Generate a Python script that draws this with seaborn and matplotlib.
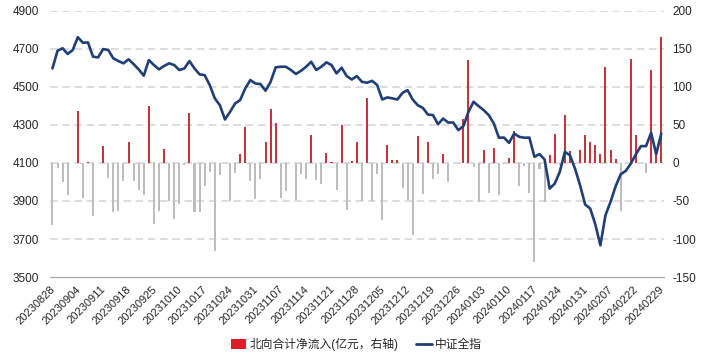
import numpy as np
import pandas as pd
import matplotlib
matplotlib.use("Agg")
import matplotlib.pyplot as plt
from matplotlib.patches import Patch
from matplotlib.lines import Line2D
import seaborn as sns

# trading days 2023-08-28 .. 2024-02-29 (A-share calendar)
holidays = ["2023-09-29", "2023-10-02", "2023-10-03", "2023-10-04", "2023-10-05",
            "2023-10-06", "2024-01-01", "2024-02-09", "2024-02-12", "2024-02-13",
            "2024-02-14", "2024-02-15", "2024-02-16"]
dates = pd.bdate_range("2023-08-28", "2024-02-29", freq="C", holidays=holidays)
dates = [d.strftime("%Y%m%d") for d in dates]

# northbound net flow (100m yuan, right axis)
flow = [-82, -6.6, -25, -42.5, 0, 68.4, -46, 1, -70, 0,
        22.4, -19.7, -65, -63.6, -24, 28, -24, -35, -42.5, 74.6,
        -80, -62.7, 18, -50, -74, -54, -3, 66, -64, -64,
        -30, -12, -116, -16, 0, -50, -12.7, 12.3, 46.5, -23.7,
        -47.4, -21, 26.8, 71, 52.6, -45.6, -36.8, 0, -49, -14.5,
        -21, 36.4, -22, -28, 13.6, 1.3, -35, 50.4, -61.4, 3,
        28, -50, 85, -50, -14.5, -74.6, 23, 3.5, 4.4, -32.5,
        -49, -95, 35, -41, 27, -21, -15, 12.3, -25, 0,
        0, 57, 135, -5.3, -52, 16.7, -39, 19.7, -42.5, -1.5,
        6.6, 42, -30, -3.5, -40, -130, -7.5, -51, 10, 37.7,
        -3, 62.7, 15.4, -2, 17.5, 36.8, 27, 23, 12.3, 125.4,
        16.7, 5.7, -63, 0, 136, 36.8, 0, -12.7, 122.4, 12,
        165.8]

# CSI All Share index (left axis)
csi = [4596, 4689, 4702, 4672, 4693, 4760, 4731, 4733, 4658, 4654,
       4698, 4693, 4649, 4635, 4623, 4644, 4619, 4591, 4558, 4640,
       4614, 4591, 4609, 4623, 4614, 4588, 4596, 4635, 4596, 4565,
       4561, 4509, 4439, 4403, 4328, 4368, 4412, 4430, 4491, 4535,
       4517, 4514, 4479, 4526, 4602, 4605, 4605, 4588, 4567, 4584,
       4605, 4631, 4588, 4605, 4628, 4614, 4570, 4600, 4556, 4538,
       4556, 4526, 4521, 4531, 4509, 4433, 4444, 4439, 4433, 4468,
       4482, 4433, 4403, 4389, 4354, 4351, 4303, 4333, 4312, 4312,
       4272, 4293, 4368, 4421, 4398, 4377, 4351, 4307, 4232, 4233,
       4205, 4254, 4237, 4232, 4233, 4132, 4146, 4118, 3965, 3991,
       4053, 4158, 4140, 4070, 3982, 3881, 3860, 3777, 3667, 3825,
       3895, 3977, 4040, 4058, 4096, 4146, 4188, 4188, 4258, 4146,
       4254]

tick_labels = ["20230828", "20230904", "20230911", "20230918", "20230925",
               "20231010", "20231017", "20231024", "20231031", "20231107",
               "20231114", "20231121", "20231128", "20231205", "20231212",
               "20231219", "20231226", "20240103", "20240110", "20240117",
               "20240124", "20240131", "20240207", "20240222", "20240229"]

RED = "#DC1E28"
GREY = "#BDBDBD"
NAVY = "#1F3F76"

sns.set_style("white")
plt.rcParams["font.family"] = ["Liberation Sans", "Noto Sans CJK SC"]
plt.rcParams["axes.unicode_minus"] = False

df = pd.DataFrame({"date": dates, "flow": flow, "csi": csi})
df["pos"] = np.where(df["flow"] >= 0, "pos", "neg")
df["x"] = np.arange(len(df))

fig = plt.figure(figsize=(7.13, 3.53), dpi=100)
ax = fig.add_axes([0.070, 0.215, 0.861, 0.755])
ax2 = ax.twinx()

# bars on right axis
sns.barplot(data=df, x="x", y="flow", hue="pos", palette={"pos": RED, "neg": GREY},
            dodge=False, width=0.4, legend=False, ax=ax2, linewidth=0)
# line on left axis
sns.lineplot(data=df, x="x", y="csi", color=NAVY, linewidth=1.9, ax=ax)

ax.set_zorder(ax2.get_zorder() + 1)
ax.patch.set_visible(False)

ax.set_ylim(3500, 4900)
ax2.set_ylim(-150, 200)
ax.set_yticks(np.arange(3500, 4901, 200))
ax2.set_yticks(np.arange(-150, 201, 50))
ax.set_xlim(-0.5, len(df) - 0.5)

for y in np.arange(-100, 201, 50):
    ax2.axhline(y, color="#D3D3D3", linestyle=(0, (5, 3)), linewidth=1.1, zorder=0)

ax.set_xlabel("")
ax.set_ylabel("")
ax2.set_xlabel("")
ax2.set_ylabel("")

# shared x axis: set ticks last so the barplot does not overwrite them
ax.set_xticks(np.arange(0, len(df), 5) - 0.5)
ax.set_xticklabels(tick_labels, rotation=45, ha="right", rotation_mode="anchor", fontsize=8)

for a in (ax, ax2):
    for s in ("top", "left", "right"):
        a.spines[s].set_visible(False)
    a.spines["bottom"].set_color("#A6A6A6")
ax.tick_params(axis="y", length=0, labelsize=8.5, pad=8)
ax2.tick_params(axis="y", length=0, labelsize=8.5, pad=6)
ax.tick_params(axis="x", length=3, color="#A6A6A6", pad=2, direction="out", labelbottom=True)

handles = [Patch(facecolor=RED, edgecolor="none"),
           Line2D([0], [0], color=NAVY, linewidth=2)]
fig.legend(handles, ["北向合计净流入(亿元，右轴)", "中证全指"], loc="lower center",
           bbox_to_anchor=(0.5, -0.025), ncol=2, frameon=False, fontsize=8.5,
           handlelength=1.3, handleheight=0.9, columnspacing=1.5, handletextpad=0.3)

fig.savefig("out.png", dpi=100)
